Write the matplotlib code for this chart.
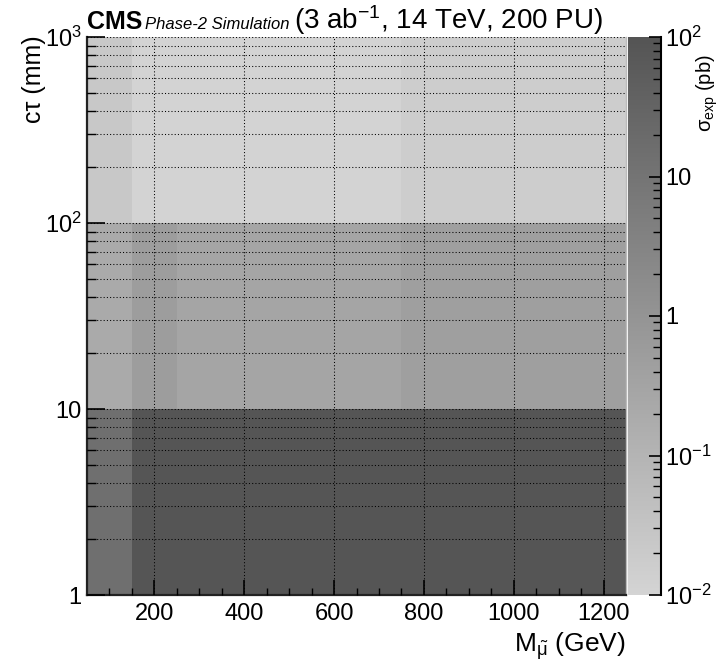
import numpy as np
import matplotlib
matplotlib.use("Agg")
import matplotlib.pyplot as plt
from matplotlib.colors import LogNorm, LinearSegmentedColormap
from matplotlib.ticker import FixedLocator, NullFormatter, LogLocator

plt.rcParams['font.family'] = ['Liberation Sans', 'DejaVu Sans']
plt.rcParams['mathtext.fontset'] = 'custom'
plt.rcParams['mathtext.rm'] = 'Liberation Sans'
plt.rcParams['mathtext.it'] = 'Liberation Sans'
plt.rcParams['mathtext.bf'] = 'Liberation Sans:bold'

# ---- data ----
mass_edges = [50, 150, 250, 350, 450, 550, 650, 750, 850, 950, 1050, 1150, 1250]
ctau_edges = [1, 10, 100, 1000]
sigma_ctau_1_10 = [14, 95, 95, 95, 95, 95, 95, 95, 95, 95, 95, 95]
sigma_ctau_10_100 = [0.21, 0.54, 0.30, 0.30, 0.30, 0.30, 0.30, 0.44, 0.44, 0.44, 0.44, 0.44]
sigma_ctau_100_1000 = [0.024, 0.011, 0.011, 0.011, 0.011, 0.011, 0.011, 0.0166, 0.0166, 0.0166, 0.0166, 0.0166]
x_ticks = [200, 400, 600, 800, 1000, 1200]
y_ticks = [1, 10, 100, 1000]
y_tick_labels = ['1', '10', '10$^{2}$', '10$^{3}$']
cb_ticks = [0.01, 0.1, 1, 10, 100]
cb_tick_labels = ['10$^{-2}$', '10$^{-1}$', '1', '10', '10$^{2}$']

W, H = 722, 671
fig = plt.figure(figsize=(W / 100, H / 100), dpi=100)

def fx(px):
    return px / W

def fy(py):
    return 1 - py / H

ax_l, ax_r, ax_t, ax_b = 87, 626, 37, 595
ax = fig.add_axes([fx(ax_l), fy(ax_b), fx(ax_r - ax_l), (ax_b - ax_t) / H])
cax = fig.add_axes([fx(628), fy(ax_b), fx(661 - 628), (ax_b - ax_t) / H])

cmap = LinearSegmentedColormap.from_list('greys_root', ['#d4d4d4', '#545454'])
Z = np.array([sigma_ctau_1_10, sigma_ctau_10_100, sigma_ctau_100_1000])
mesh = ax.pcolormesh(mass_edges, ctau_edges, Z, cmap=cmap,
                     norm=LogNorm(vmin=0.01, vmax=100), shading='flat')

ax.set_yscale('log')
ax.set_xlim(50, 1250)
ax.set_ylim(1, 1000)

ax.xaxis.set_major_locator(FixedLocator(x_ticks))
ax.xaxis.set_minor_locator(FixedLocator(np.arange(100, 1250, 50)))
ax.set_xticklabels([str(t) for t in x_ticks])
ax.yaxis.set_major_locator(FixedLocator(y_ticks))
ax.yaxis.set_minor_locator(LogLocator(base=10, subs=np.arange(2, 10)))
ax.yaxis.set_minor_formatter(NullFormatter())
ax.set_yticklabels(y_tick_labels)

ax.tick_params(axis='x', which='major', direction='in', length=11, width=1.2,
               labelsize=17, pad=6, top=False, colors='black')
ax.tick_params(axis='x', which='minor', direction='in', length=5, width=1.0, top=False)
ax.tick_params(axis='y', which='major', direction='in', length=13, width=1.2,
               labelsize=17, pad=4, right=False)
ax.tick_params(axis='y', which='minor', direction='in', length=6.5, width=1.0, right=False)

ax.set_axisbelow(False)
ax.grid(True, axis='x', which='major', color='black', linestyle=(0, (1, 2.1)), linewidth=0.75)
ax.grid(True, axis='y', which='both', color='black', linestyle=(0, (1, 2.1)), linewidth=0.75)

for s in ['left', 'bottom']:
    ax.spines[s].set_linewidth(1.6)
    ax.spines[s].set_color('#222222')
ax.spines['top'].set_visible(False)
ax.spines['right'].set_color('#bbbbbb')
ax.spines['right'].set_linewidth(1.0)

# colorbar
cb = fig.colorbar(mesh, cax=cax)
cb.outline.set_visible(False)
cax.yaxis.set_major_locator(FixedLocator(cb_ticks))
cax.set_yticklabels(cb_tick_labels)
cax.yaxis.set_minor_locator(LogLocator(base=10, subs=np.arange(2, 10)))
cax.yaxis.set_minor_formatter(NullFormatter())
cax.tick_params(axis='y', which='major', direction='in', length=9, width=1.2,
                labelsize=17, pad=3, right=True, left=False)
cax.tick_params(axis='y', which='minor', direction='in', length=6, width=1.0,
                right=True, left=False)
cax.plot([1, 1], [0, 1], transform=cax.transAxes, color='black', lw=1.5, clip_on=False)

# axis titles
fig.text(fx(626), fy(652), r'M$_{\tilde{\mathrm{\mu}}}$ (GeV)', ha='right', va='baseline',
         fontsize=19)
fig.text(fx(34), fy(35), 'c\u03c4 (mm)', ha='center', va='top', rotation=90, fontsize=18)
fig.text(fx(720), fy(54), r'$\sigma_{\mathrm{exp}}$ (pb)', ha='right', va='top',
         rotation=90, fontsize=14.5)

# header
fig.text(fx(87), fy(29), 'CMS', fontweight='bold', fontsize=18, ha='left', va='baseline')
fig.text(fx(145), fy(29), 'Phase-2 Simulation', fontstyle='italic',
         fontsize=12, ha='left', va='baseline')
fig.text(fx(294), fy(29), r'(3 ab$^{-1}$, 14 TeV, 200 PU)', fontsize=20,
         ha='left', va='baseline')

fig.savefig('out.png', dpi=100)
